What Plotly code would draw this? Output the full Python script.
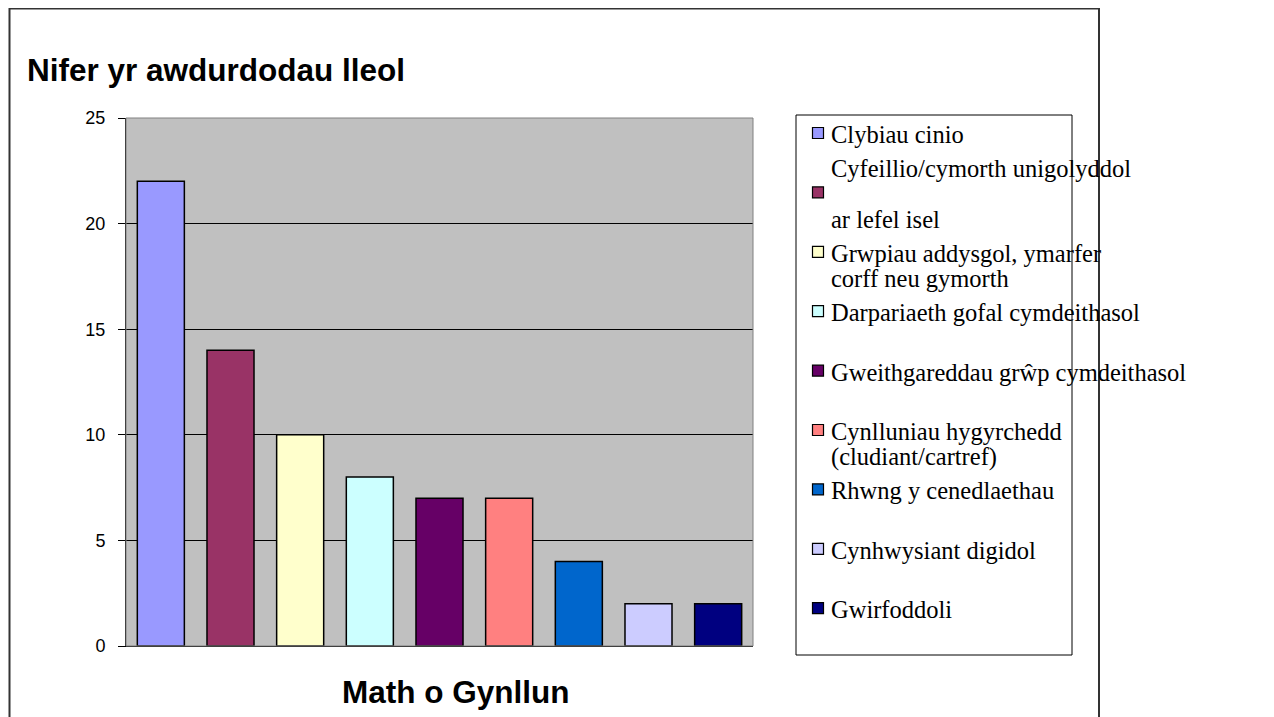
import plotly.graph_objects as go

# ---- data ----
categories = [
    "Clybiau cinio",
    "Cyfeillio/cymorth unigolyddol ar lefel isel",
    "Grwpiau addysgol, ymarfer corff neu gymorth",
    "Darpariaeth gofal cymdeithasol",
    "Gweithgareddau grŵp cymdeithasol",
    "Cynlluniau hygyrchedd (cludiant/cartref)",
    "Rhwng y cenedlaethau",
    "Cynhwysiant digidol",
    "Gwirfoddoli",
]
legend_lines = [
    ["Clybiau cinio"],
    ["Cyfeillio/cymorth unigolyddol", "", "ar lefel isel"],
    ["Grwpiau addysgol, ymarfer", "corff neu gymorth"],
    ["Darpariaeth gofal cymdeithasol"],
    ["Gweithgareddau grŵp cymdeithasol"],
    ["Cynlluniau hygyrchedd", "(cludiant/cartref)"],
    ["Rhwng y cenedlaethau"],
    ["Cynhwysiant digidol"],
    ["Gwirfoddoli"],
]
values = [22, 14, 10, 8, 7, 7, 4, 2, 2]
colors = ["#9999FF", "#993366", "#FFFFCC", "#CCFFFF", "#660066",
          "#FF8080", "#0066CC", "#CCCCFF", "#000080"]
y_ticks = [0, 5, 10, 15, 20, 25]
y_title = "Nifer yr awdurdodau lleol"
x_title = "Math o Gynllun"

# ---- layout geometry (screen pixels; page body has 8px margin) ----
OFF = 8
W, H = 1274 - OFF, 717 - OFF
PL, PR, PT, PB = 126, 753, 118, 646   # plot area on screen


def px(x):
    return (x - PL) / (PR - PL)


def py(y):
    return (PB - y) / (PB - PT)


fig = go.Figure()
fig.add_trace(go.Bar(
    x=categories, y=values,
    marker=dict(color=colors, line=dict(color="black", width=1.5)),
    showlegend=False,
))

shapes = []
annotations = []

# outer chart border
shapes.append(dict(type="rect", xref="paper", yref="paper",
                   x0=px(9.5), x1=px(1099), y0=py(740), y1=py(8.5),
                   line=dict(color="#333333", width=2), layer="below"))
# plot area grey border (top/right)
shapes.append(dict(type="rect", xref="paper", yref="paper",
                   x0=0, x1=1, y0=0, y1=1,
                   line=dict(color="#808080", width=1)))

# legend box
shapes.append(dict(type="rect", xref="paper", yref="paper",
                   x0=px(796), x1=px(1072), y0=py(655), y1=py(115),
                   line=dict(color="black", width=1), fillcolor="white",
                   layer="below"))

LEG_Y0, LEG_STEP, LINE_H = 133, 59.4, 25.5
for i, (lines, col) in enumerate(zip(legend_lines, colors)):
    my = LEG_Y0 + i * LEG_STEP
    shapes.append(dict(type="rect", xref="paper", yref="paper",
                       x0=px(812.5), x1=px(823.5), y0=py(my + 5.5), y1=py(my - 5.5),
                       line=dict(color="black", width=1.2), fillcolor=col))
    first = my - ((len(lines) - 1) // 2) * LINE_H
    for j, t in enumerate(lines):
        if not t:
            continue
        annotations.append(dict(
            text=t, xref="paper", yref="paper",
            x=px(829), y=py(first + j * LINE_H + 1.5),
            xanchor="left", yanchor="middle", showarrow=False,
            font=dict(family="Liberation Serif, Times New Roman, serif",
                      size=24.5, color="black"),
        ))

# titles
annotations.append(dict(
    text=y_title, xref="paper", yref="paper", x=px(25), y=py(70),
    xanchor="left", yanchor="middle", showarrow=False,
    font=dict(family="Liberation Sans, Arial, sans-serif", size=31.5,
              color="black", weight="bold"),
))
annotations.append(dict(
    text=x_title, xref="paper", yref="paper", x=px(455), y=py(692),
    xanchor="center", yanchor="middle", showarrow=False,
    font=dict(family="Liberation Sans, Arial, sans-serif", size=31.5,
              color="black", weight="bold"),
))

fig.update_layout(
    width=W, height=H,
    margin=dict(l=PL - OFF, r=W - (PR - OFF), t=PT - OFF, b=H - (PB - OFF),
                autoexpand=False),
    paper_bgcolor="white",
    plot_bgcolor="#C0C0C0",
    bargap=0.325,
    shapes=shapes,
    annotations=annotations,
    xaxis=dict(showticklabels=False, ticks="", showgrid=False,
               showline=True, linecolor="black", linewidth=1,
               zeroline=False),
    yaxis=dict(range=[0, 25], tickvals=y_ticks, ticks="outside", ticklen=7,
               tickcolor="black", tickwidth=1,
               showgrid=True, gridcolor="black", gridwidth=1,
               showline=True, linecolor="black", linewidth=1,
               zeroline=False, ticklabelstandoff=9,
               tickfont=dict(family="Liberation Sans, Arial, sans-serif",
                             size=18, color="black")),
)

fig.write_html("out.html")
